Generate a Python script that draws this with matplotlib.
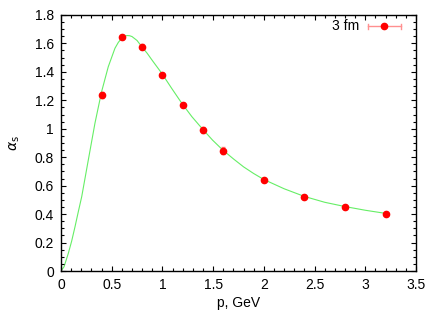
import matplotlib
matplotlib.use("Agg")
import matplotlib.pyplot as plt
from matplotlib.ticker import MultipleLocator, FuncFormatter

plt.rcParams['font.family'] = ['Liberation Sans', 'DejaVu Sans']
plt.rcParams['font.size'] = 10

# measured points (3 fm)
p = [0.4, 0.6, 0.8, 1.0, 1.2, 1.4, 1.6, 2.0, 2.4, 2.8, 3.2]
alpha = [1.238, 1.643, 1.576, 1.38, 1.168, 0.991, 0.845, 0.642, 0.523, 0.453, 0.403]
alpha_err = [0.022, 0.012, 0.018, 0.015, 0.015, 0.018, 0.025, 0.008, 0.008, 0.008, 0.008]

# fit curve
fit_p = [0.0, 0.03, 0.072, 0.105, 0.138, 0.17, 0.204, 0.269, 0.335, 0.40, 0.466,
         0.532, 0.565, 0.598, 0.625, 0.65, 0.675, 0.70, 0.75, 0.796, 0.85, 0.90,
         0.993, 1.09, 1.19, 1.29, 1.395, 1.494, 1.594, 1.7, 1.8, 1.9, 2.0, 2.2,
         2.4, 2.6, 2.8, 3.0, 3.2]
fit_alpha = [0.0, 0.03, 0.124, 0.21, 0.311, 0.415, 0.522, 0.78, 1.04, 1.26, 1.436,
             1.566, 1.607, 1.636, 1.65, 1.655, 1.654, 1.648, 1.62, 1.577, 1.53, 1.48,
             1.39, 1.285, 1.18, 1.085, 0.998, 0.92, 0.851, 0.788, 0.732, 0.685, 0.643,
             0.578, 0.524, 0.483, 0.453, 0.427, 0.405]

fig = plt.figure(figsize=(4.44, 3.11), dpi=100)
ax = fig.add_axes([0.1374, 0.1286, 0.7996, 0.8234])

ax.plot(fit_p, fit_alpha, color='#66ee66', lw=0.8, zorder=1)
ax.errorbar(p, alpha, yerr=alpha_err, fmt='o', color='red', ms=4.5,
            ecolor='#ff8080', elinewidth=1, capsize=1.5, zorder=2)

# key, gnuplot style
ax.text(0.84, 0.955, '3 fm', transform=ax.transAxes, ha='right', va='center')
ax.plot([0.864, 0.957], [0.955, 0.955], transform=ax.transAxes, color='#ff9090', lw=1)
ax.plot([0.864, 0.864, None, 0.957, 0.957], [0.945, 0.965, None, 0.945, 0.965],
        transform=ax.transAxes, color='#ff9090', lw=1)
ax.plot([0.91], [0.955], 'o', transform=ax.transAxes, color='red', ms=4.5)

ax.set_xlim(0, 3.5)
ax.set_ylim(0, 1.8)
ax.xaxis.set_major_locator(MultipleLocator(0.5))
ax.xaxis.set_minor_locator(MultipleLocator(0.1))
ax.yaxis.set_major_locator(MultipleLocator(0.2))
ax.yaxis.set_minor_locator(MultipleLocator(0.05))
fmt = FuncFormatter(lambda v, pos: '%g' % round(v, 2))
ax.xaxis.set_major_formatter(fmt)
ax.yaxis.set_major_formatter(fmt)
ax.tick_params(which='both', direction='in', top=True, right=True, width=0.8)
ax.tick_params(which='major', length=3.5, pad=5)
ax.tick_params(which='minor', length=2)
for s in ax.spines.values():
    s.set_linewidth(1)

ax.set_xlabel('p, GeV', labelpad=3)
ax.set_ylabel(r'$\alpha_{\rm s}$', labelpad=9)

fig.savefig('out.png', dpi=100)
